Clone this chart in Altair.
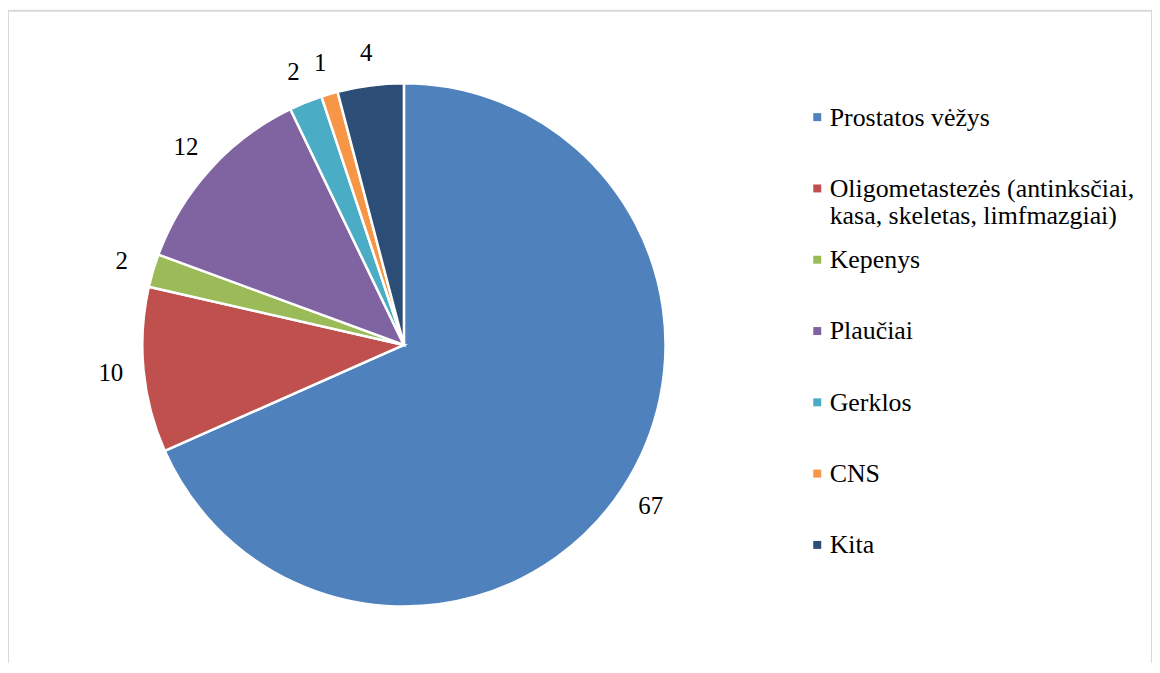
import altair as alt
import pandas as pd

categories = ["Prostatos vėžys",
              "Oligometastezės (antinksčiai,\nkasa, skeletas, limfmazgiai)",
              "Kepenys", "Plaučiai", "Gerklos", "CNS", "Kita"]
values = [67, 10, 2, 12, 2, 1, 4]
colors = ["#4F81BD", "#C0504D", "#9BBB59", "#8064A2", "#4BACC6", "#F79646", "#2C4D75"]

df = pd.DataFrame({
    "category": categories,
    "value": values,
    "order": list(range(len(categories))),
})

FONT = "Liberation Serif"
color_scale = alt.Scale(domain=categories, range=colors)

CX, CY, R = 398, 337, 263

pie = alt.Chart(df).mark_arc(outerRadius=R, stroke="white", strokeWidth=2.5).encode(
    theta=alt.Theta("value:Q", stack=True),
    color=alt.Color("category:N", scale=color_scale, legend=None),
    order=alt.Order("order:Q"),
    x=alt.value(CX), y=alt.value(CY),
)

labels = alt.Chart(df).mark_text(radius=R + 33, font=FONT, fontSize=25, color="black",
                                 align="center", baseline="middle").encode(
    theta=alt.Theta("value:Q", stack=True),
    order=alt.Order("order:Q"),
    text=alt.Text("value:Q"),
    x=alt.value(CX), y=alt.value(CY),
)

ypos = alt.Y("category:N", sort=categories, axis=None,
             scale=alt.Scale(type="point", range=[108, 538], padding=0))

legend_marks = alt.Chart(df).mark_square(size=64, opacity=1).encode(
    x=alt.value(813.5),
    y=ypos,
    color=alt.Color("category:N", scale=color_scale, legend=None),
)

legend_text = alt.Chart(df).mark_text(align="left", baseline="alphabetic", dy=8.5,
                                      font=FONT, fontSize=26, lineHeight=27,
                                      lineBreak="\n", color="black").encode(
    x=alt.value(826),
    y=ypos,
    text="category:N",
)

frame = alt.Chart(alt.Data(values=[{}])).mark_rect(
    fill=None, stroke="#d9d9d9", strokeWidth=2
).encode(x=alt.value(0), x2=alt.value(1150), y=alt.value(1), y2=alt.value(760))

chart = alt.layer(frame, pie, labels, legend_marks, legend_text).properties(
    width=1150, height=655, padding=0, autosize="none"
).configure_view(stroke=None)

chart.save("out.html", embed_options={"renderer": "svg", "actions": False})
